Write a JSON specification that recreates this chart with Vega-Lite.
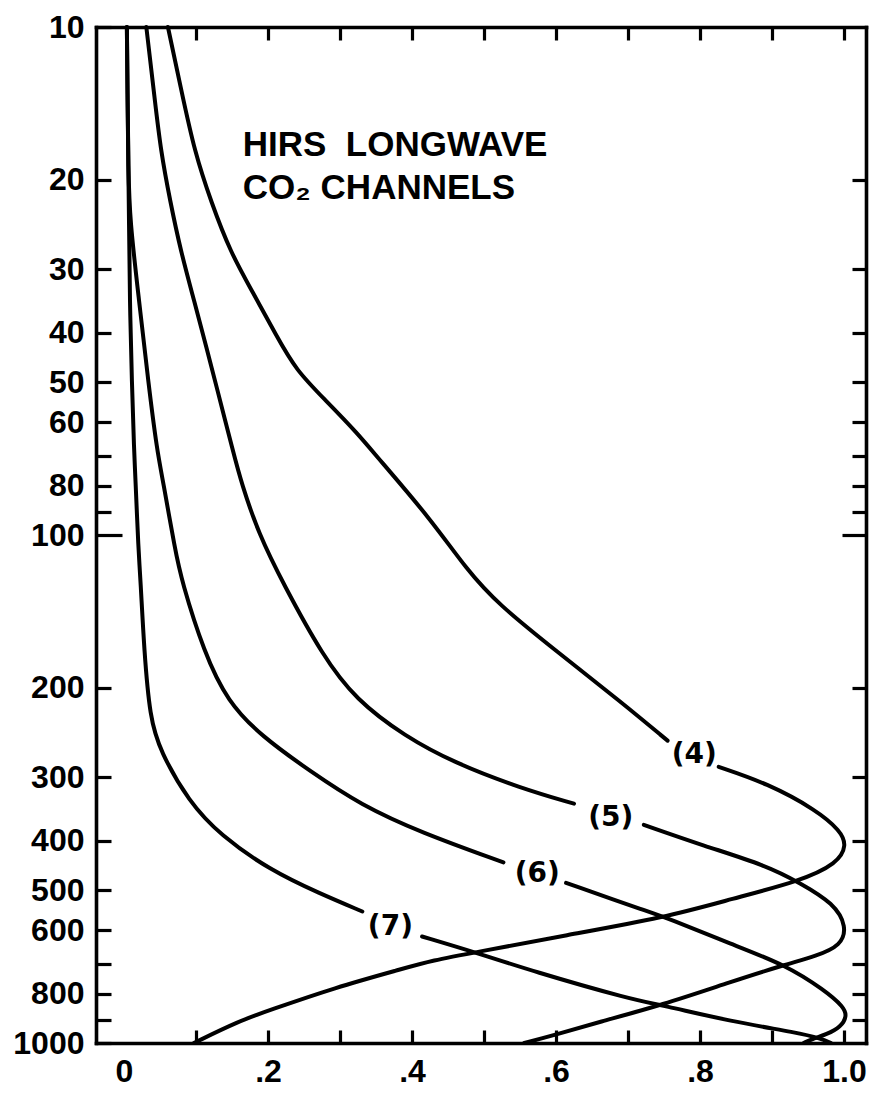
{
  "$schema": "https://vega.github.io/schema/vega-lite/v6.json",
  "width": 770,
  "height": 1016,
  "padding": {"left": 12, "top": 11, "right": 5, "bottom": 5},
  "background": "white",
  "config": {"view": {"stroke": null}},
  "datasets": {
    "curves": [
      {"seg": "4a", "w": 0.061, "p": 10}, {"seg": "4a", "w": 0.080, "p": 13.4}, {"seg": "4a", "w": 0.098, "p": 17.6},
      {"seg": "4a", "w": 0.121, "p": 22.1}, {"seg": "4a", "w": 0.148, "p": 27.8}, {"seg": "4a", "w": 0.179, "p": 33.3},
      {"seg": "4a", "w": 0.212, "p": 40.6}, {"seg": "4a", "w": 0.239, "p": 47.4}, {"seg": "4a", "w": 0.280, "p": 54.3},
      {"seg": "4a", "w": 0.325, "p": 63.2}, {"seg": "4a", "w": 0.352, "p": 70.3}, {"seg": "4a", "w": 0.426, "p": 93},
      {"seg": "4a", "w": 0.476, "p": 117}, {"seg": "4a", "w": 0.520, "p": 137}, {"seg": "4a", "w": 0.600, "p": 169},
      {"seg": "4a", "w": 0.692, "p": 214}, {"seg": "4a", "w": 0.755, "p": 254},
      {"seg": "4b", "w": 0.826, "p": 286}, {"seg": "4b", "w": 0.893, "p": 308}, {"seg": "4b", "w": 0.962, "p": 348},
      {"seg": "4b", "w": 0.995, "p": 382}, {"seg": "4b", "w": 1.004, "p": 408}, {"seg": "4b", "w": 0.991, "p": 443},
      {"seg": "4b", "w": 0.939, "p": 480}, {"seg": "4b", "w": 0.845, "p": 520}, {"seg": "4b", "w": 0.752, "p": 566},
      {"seg": "4b", "w": 0.613, "p": 614}, {"seg": "4b", "w": 0.488, "p": 663}, {"seg": "4b", "w": 0.428, "p": 688},
      {"seg": "4b", "w": 0.386, "p": 715}, {"seg": "4b", "w": 0.293, "p": 778}, {"seg": "4b", "w": 0.201, "p": 863},
      {"seg": "4b", "w": 0.160, "p": 905}, {"seg": "4b", "w": 0.097, "p": 1000},
      {"seg": "5a", "w": 0.031, "p": 10}, {"seg": "5a", "w": 0.043, "p": 14}, {"seg": "5a", "w": 0.051, "p": 17.5},
      {"seg": "5a", "w": 0.064, "p": 22}, {"seg": "5a", "w": 0.079, "p": 27.7}, {"seg": "5a", "w": 0.098, "p": 34.8},
      {"seg": "5a", "w": 0.116, "p": 43.6}, {"seg": "5a", "w": 0.128, "p": 50.7}, {"seg": "5a", "w": 0.152, "p": 68.9},
      {"seg": "5a", "w": 0.163, "p": 79}, {"seg": "5a", "w": 0.187, "p": 99.5}, {"seg": "5a", "w": 0.2215, "p": 125},
      {"seg": "5a", "w": 0.276, "p": 173}, {"seg": "5a", "w": 0.322, "p": 211}, {"seg": "5a", "w": 0.390, "p": 249},
      {"seg": "5a", "w": 0.459, "p": 281}, {"seg": "5a", "w": 0.551, "p": 315}, {"seg": "5a", "w": 0.625, "p": 338},
      {"seg": "5b", "w": 0.722, "p": 372}, {"seg": "5b", "w": 0.805, "p": 409}, {"seg": "5b", "w": 0.892, "p": 447},
      {"seg": "5b", "w": 0.939, "p": 484}, {"seg": "5b", "w": 0.986, "p": 531}, {"seg": "5b", "w": 1.004, "p": 590},
      {"seg": "5b", "w": 0.996, "p": 643}, {"seg": "5b", "w": 0.962, "p": 674}, {"seg": "5b", "w": 0.918, "p": 701},
      {"seg": "5b", "w": 0.844, "p": 757}, {"seg": "5b", "w": 0.747, "p": 842}, {"seg": "5b", "w": 0.659, "p": 910},
      {"seg": "5b", "w": 0.597, "p": 966}, {"seg": "5b", "w": 0.556, "p": 1000},
      {"seg": "6a", "w": 0.004, "p": 10}, {"seg": "6a", "w": 0.005, "p": 14}, {"seg": "6a", "w": 0.006, "p": 19},
      {"seg": "6a", "w": 0.008, "p": 24}, {"seg": "6a", "w": 0.021, "p": 34.6}, {"seg": "6a", "w": 0.034, "p": 50.4},
      {"seg": "6a", "w": 0.046, "p": 68.4}, {"seg": "6a", "w": 0.054, "p": 78}, {"seg": "6a", "w": 0.071, "p": 107},
      {"seg": "6a", "w": 0.080, "p": 123}, {"seg": "6a", "w": 0.111, "p": 170}, {"seg": "6a", "w": 0.144, "p": 213},
      {"seg": "6a", "w": 0.191, "p": 249}, {"seg": "6a", "w": 0.259, "p": 292}, {"seg": "6a", "w": 0.329, "p": 340},
      {"seg": "6a", "w": 0.412, "p": 385}, {"seg": "6a", "w": 0.527, "p": 441},
      {"seg": "6b", "w": 0.614, "p": 484}, {"seg": "6b", "w": 0.734, "p": 555}, {"seg": "6b", "w": 0.752, "p": 566},
      {"seg": "6b", "w": 0.845, "p": 640}, {"seg": "6b", "w": 0.918, "p": 701}, {"seg": "6b", "w": 0.973, "p": 787},
      {"seg": "6b", "w": 1.000, "p": 850}, {"seg": "6b", "w": 1.004, "p": 885}, {"seg": "6b", "w": 0.996, "p": 929},
      {"seg": "6b", "w": 0.976, "p": 962}, {"seg": "6b", "w": 0.955, "p": 983}, {"seg": "6b", "w": 0.944, "p": 1000},
      {"seg": "7a", "w": 0.004, "p": 10}, {"seg": "7a", "w": 0.005, "p": 14}, {"seg": "7a", "w": 0.006, "p": 19},
      {"seg": "7a", "w": 0.007, "p": 24}, {"seg": "7a", "w": 0.008, "p": 34.5}, {"seg": "7a", "w": 0.011, "p": 50.4},
      {"seg": "7a", "w": 0.014, "p": 68.4}, {"seg": "7a", "w": 0.016, "p": 78}, {"seg": "7a", "w": 0.020, "p": 107},
      {"seg": "7a", "w": 0.023, "p": 123}, {"seg": "7a", "w": 0.028, "p": 169}, {"seg": "7a", "w": 0.036, "p": 229},
      {"seg": "7a", "w": 0.050, "p": 266}, {"seg": "7a", "w": 0.090, "p": 335}, {"seg": "7a", "w": 0.134, "p": 390},
      {"seg": "7a", "w": 0.203, "p": 457}, {"seg": "7a", "w": 0.272, "p": 508}, {"seg": "7a", "w": 0.331, "p": 551},
      {"seg": "7b", "w": 0.414, "p": 617}, {"seg": "7b", "w": 0.488, "p": 663}, {"seg": "7b", "w": 0.567, "p": 722},
      {"seg": "7b", "w": 0.706, "p": 822}, {"seg": "7b", "w": 0.747, "p": 842}, {"seg": "7b", "w": 0.843, "p": 907},
      {"seg": "7b", "w": 0.937, "p": 955}, {"seg": "7b", "w": 0.968, "p": 980}, {"seg": "7b", "w": 0.982, "p": 1000}
    ],
    "curveLabels": [
      {"t": "(4)", "w": 0.792, "p": 271},
      {"t": "(5)", "w": 0.676, "p": 360},
      {"t": "(6)", "w": 0.574, "p": 464},
      {"t": "(7)", "w": 0.370, "p": 591}
    ],
    "titleText": [
      {"t": "HIRS\u00a0\u00a0LONGWAVE", "w": 0.165, "p": 17.1},
      {"t": "CO\u2082 CHANNELS", "w": 0.165, "p": 20.7}
    ]
  },
  "layer": [
    {
      "data": {"name": "curves"},
      "mark": {"type": "line", "color": "black", "strokeWidth": 4, "strokeCap": "round", "strokeJoin": "round", "interpolate": "basis"},
      "encoding": {
        "x": {
          "field": "w", "type": "quantitative",
          "scale": {"domain": [-0.0389, 1.0306], "nice": false, "zero": false},
          "axis": {
            "orient": "bottom", "title": null, "grid": false,
            "values": [0, 0.1, 0.2, 0.3, 0.4, 0.5, 0.6, 0.7, 0.8, 0.9, 1],
            "labelExpr": "datum.value == 0 ? '0' : (datum.value == 1 ? '1.0' : (round(datum.value * 10) % 2 == 0 ? '.' + round(datum.value * 10) : ''))",
            "tickSize": -13, "tickWidth": 3.2, "tickColor": "black",
            "tickOpacity": {"condition": {"test": "datum.value == 0", "value": 0}, "value": 1},
            "domainColor": "black", "domainWidth": 3.6, "domainCap": "square",
            "labelFont": "Liberation Sans", "labelFontWeight": "bold", "labelFontSize": 32, "labelColor": "black",
            "labelPadding": 26, "labelFlush": false, "labelOverlap": false
          }
        },
        "y": {
          "field": "p", "type": "quantitative",
          "scale": {"type": "log", "domain": [10, 1000], "reverse": true, "nice": false},
          "axis": {
            "orient": "left", "title": null, "grid": false, "format": "d",
            "values": [10, 20, 30, 40, 50, 60, 70, 80, 90, 100, 200, 300, 400, 500, 600, 700, 800, 900, 1000],
            "labelExpr": "datum.value == 70 || datum.value == 90 || datum.value == 700 || datum.value == 900 ? '' : datum.label",
            "tickSize": {"condition": {"test": "datum.value == 100", "value": -26}, "value": -15},
            "labelPadding": {"condition": {"test": "datum.value == 100", "value": 38}, "value": 27},
            "tickWidth": 3.2, "tickColor": "black",
            "domainColor": "black", "domainWidth": 3.6, "domainCap": "square",
            "labelFont": "Liberation Sans", "labelFontWeight": "bold", "labelFontSize": 32, "labelColor": "black",
            "labelFlush": false, "labelOverlap": false
          }
        },
        "detail": {"field": "seg", "type": "nominal"},
        "order": {"field": "p", "type": "quantitative"}
      }
    },
    {
      "data": {"name": "curveLabels"},
      "mark": {"type": "text", "font": "DejaVu Sans", "fontWeight": "bold", "fontSize": 28, "color": "black", "align": "center", "baseline": "middle"},
      "encoding": {
        "x": {
          "field": "w", "type": "quantitative",
          "axis": {
            "orient": "top", "title": null, "grid": false, "labels": false,
            "values": [0.1, 0.2, 0.3, 0.4, 0.5, 0.6, 0.7, 0.8, 0.9, 1],
            "tickSize": -13, "tickWidth": 3.2, "tickColor": "black",
            "domainColor": "black", "domainWidth": 3.6, "domainCap": "square"
          }
        },
        "y": {
          "field": "p", "type": "quantitative",
          "axis": {
            "orient": "right", "title": null, "grid": false, "labels": false,
            "values": [20, 30, 40, 50, 60, 70, 80, 90, 100, 200, 300, 400, 500, 600, 700, 800, 900],
            "tickSize": {"condition": {"test": "datum.value == 100", "value": -24}, "value": -14},
            "tickWidth": 3.2, "tickColor": "black",
            "domainColor": "black", "domainWidth": 3.6, "domainCap": "square"
          }
        },
        "text": {"field": "t", "type": "nominal"}
      }
    },
    {
      "data": {"name": "titleText"},
      "mark": {"type": "text", "font": "Liberation Sans", "fontWeight": "bold", "fontSize": 35, "color": "black", "align": "left", "baseline": "middle"},
      "encoding": {
        "x": {"field": "w", "type": "quantitative", "axis": null},
        "y": {"field": "p", "type": "quantitative", "axis": null},
        "text": {"field": "t", "type": "nominal"}
      }
    }
  ],
  "resolve": {"axis": {"x": "independent", "y": "independent"}}
}
